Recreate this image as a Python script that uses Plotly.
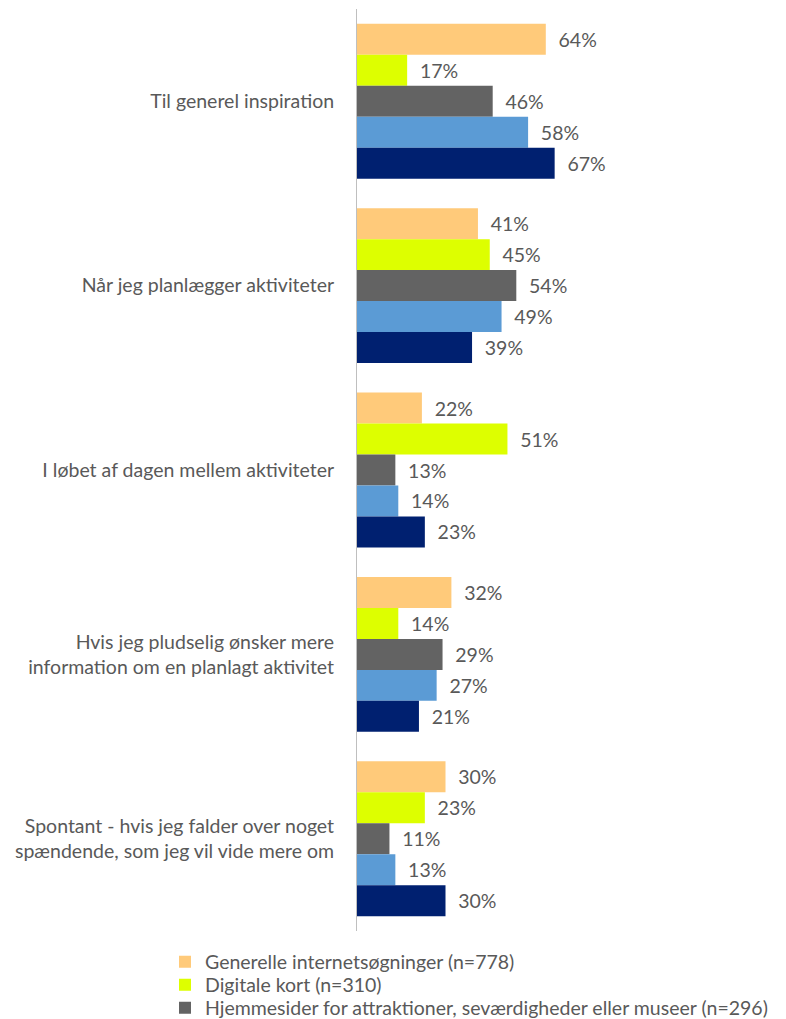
import plotly.graph_objects as go

categories = [
    "Til generel inspiration",
    "Når jeg planlægger aktiviteter",
    "I løbet af dagen mellem aktiviteter",
    "Hvis jeg pludselig ønsker mere<br>information om en planlagt aktivitet",
    "Spontant - hvis jeg falder over noget<br>spændende, som jeg vil vide mere om",
]
series_names = [
    "Generelle internetsøgninger (n=778)",
    "Digitale kort (n=310)",
    "Hjemmesider for attraktioner, seværdigheder eller museer (n=296)",
    "Serie 4",
    "Serie 5",
]
series_values = [
    [64, 41, 22, 32, 30],
    [17, 45, 51, 14, 23],
    [46, 54, 13, 29, 11],
    [58, 49, 14, 27, 13],
    [67, 39, 23, 21, 30],
]
show_in_legend = [True, True, True, False, False]
legend_ids = ["legend", "legend2", "legend3", None, None]
colors = ["#FFCA7A", "#DDFF00", "#636363", "#5B9BD5", "#002070"]

FS = 19.5

fig = go.Figure()
for name, vals, col, sl, lid in zip(series_names, series_values, colors, show_in_legend, legend_ids):
    kw = dict(legend=lid) if lid else {}
    fig.add_trace(go.Bar(
        y=categories, x=vals, name=name, orientation="h",
        marker=dict(color=col, line=dict(width=0)),
        text=["\u2002" + f"{v}%" for v in vals],
        textposition="outside", cliponaxis=False,
        textfont=dict(size=FS, color="#595959"),
        showlegend=sl, **kw,
    ))

legend_rows = [962, 985, 1008]
leg_common = dict(xref="container", yref="container", x=165 / 786, xanchor="left",
                  yanchor="middle", font=dict(size=FS, color="#595959"), itemwidth=30,
                  bgcolor="rgba(0,0,0,0)")

fig.update_layout(
    width=786, height=1019,
    margin=dict(l=357, r=134, t=9, b=88, autoexpand=False),
    barmode="group", bargap=0.16, bargroupgap=0,
    plot_bgcolor="white", paper_bgcolor="white",
    font=dict(family="Lato, Open Sans, sans-serif", size=FS, color="#595959"),
    xaxis=dict(range=[0, 100], visible=False),
    yaxis=dict(autorange="reversed", showline=True, linecolor="#BFBFBF", linewidth=1,
               ticks="", ticklabelstandoff=18, showgrid=False),
    legend=dict(y=1 - legend_rows[0] / 1019, **leg_common),
    legend2=dict(y=1 - legend_rows[1] / 1019, **leg_common),
    legend3=dict(y=1 - legend_rows[2] / 1019, **leg_common),
)
fig.write_html("out.html")
